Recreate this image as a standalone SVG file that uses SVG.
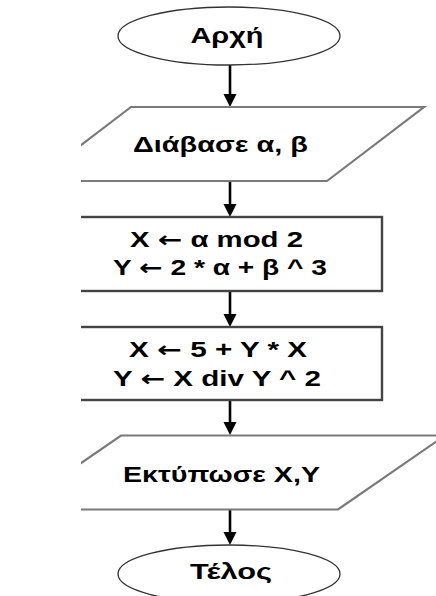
<svg xmlns="http://www.w3.org/2000/svg" width="436" height="596" viewBox="0 0 436 596">
  <style>
    .term { fill: #fff; stroke: #333; stroke-width: 1.3; }
    .io { fill: #fff; stroke: #7a7a7a; stroke-width: 2.2; }
    .proc { fill: #fff; stroke: #444; stroke-width: 2.4; }
    .lbl { font-family: "Liberation Sans", Arial, "DejaVu Sans", sans-serif; font-weight: bold; font-size: 22px; fill: #000; text-anchor: middle; }
    .arw { font-family: "DejaVu Sans", sans-serif; font-weight: bold; }
    .flow { stroke: #000; stroke-width: 2.6; fill: none; }
  </style>
  <defs>
    <clipPath id="page">
      <rect x="81" y="0" width="355" height="596"/>
    </clipPath>
  </defs>
  <rect width="436" height="596" fill="#fff"/>

  <g clip-path="url(#page)">
    <g id="connectors">
      <line class="flow" x1="230" y1="65" x2="230" y2="96"/>
      <path d="M223.5,94 L236.5,94 L230,107 Z" fill="#000"/>
      <line class="flow" x1="230" y1="182" x2="230" y2="206"/>
      <path d="M223.5,204 L236.5,204 L230,217 Z" fill="#000"/>
      <line class="flow" x1="230" y1="292" x2="230" y2="316"/>
      <path d="M223.5,314 L236.5,314 L230,327 Z" fill="#000"/>
      <line class="flow" x1="230" y1="401" x2="230" y2="424"/>
      <path d="M223.5,422 L236.5,422 L230,435 Z" fill="#000"/>
      <line class="flow" x1="230" y1="510" x2="230" y2="534"/>
      <path d="M223.5,532 L236.5,532 L230,545 Z" fill="#000"/>
    </g>

    <g id="start">
      <ellipse class="term" cx="229" cy="36" rx="111" ry="29"/>
      <text class="lbl" x="227" y="43" textLength="73" lengthAdjust="spacingAndGlyphs">Αρχή</text>
    </g>

    <g id="read">
      <polygon class="io" points="131,107 424,107 327,181 34,181"/>
      <text class="lbl" x="220.5" y="152" textLength="175" lengthAdjust="spacingAndGlyphs">Διάβασε α, β</text>
    </g>

    <g id="assign1">
      <rect class="proc" x="78" y="217" width="304" height="74"/>
      <text class="lbl" x="216.5" y="246.5" textLength="173" lengthAdjust="spacingAndGlyphs">X <tspan class="arw">←</tspan> α mod 2</text>
      <text class="lbl" x="220" y="275" textLength="214" lengthAdjust="spacingAndGlyphs">Y <tspan class="arw">←</tspan> 2 * α + β ^ 3</text>
    </g>

    <g id="assign2">
      <rect class="proc" x="78" y="327" width="304" height="73"/>
      <text class="lbl" x="218" y="356.5" textLength="178" lengthAdjust="spacingAndGlyphs">X <tspan class="arw">←</tspan> 5 + Y * X</text>
      <text class="lbl" x="217" y="386" textLength="208" lengthAdjust="spacingAndGlyphs">Y <tspan class="arw">←</tspan> X div Y ^ 2</text>
    </g>

    <g id="print">
      <polygon class="io" points="121,435.5 445,435.5 338,509.5 14,509.5"/>
      <text class="lbl" x="221.5" y="481.5" textLength="197" lengthAdjust="spacingAndGlyphs">Εκτύπωσε X,Y</text>
    </g>

    <g id="end">
      <ellipse class="term" cx="229" cy="574" rx="111" ry="29"/>
      <text class="lbl" x="231" y="579" textLength="82" lengthAdjust="spacingAndGlyphs">Τέλος</text>
    </g>
  </g>
</svg>
